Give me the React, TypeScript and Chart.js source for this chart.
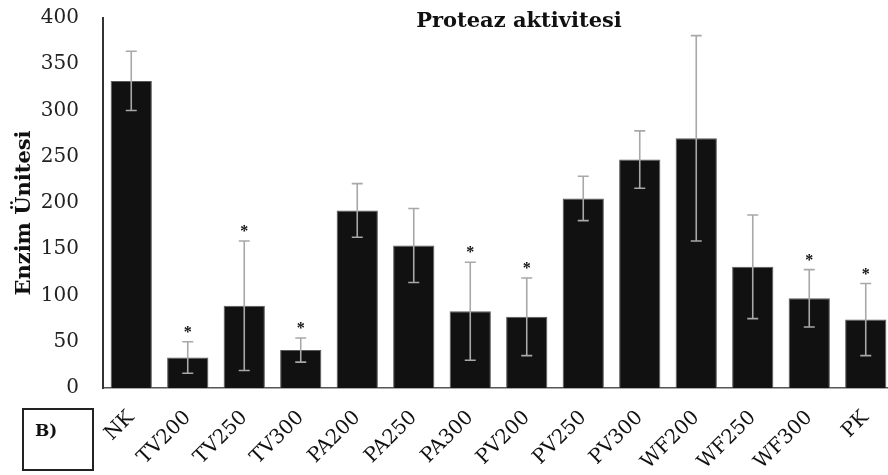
import React, { useEffect, useRef } from "react";
import { Chart, registerables } from "chart.js";

Chart.register(...registerables);

const categories = ["NK", "TV200", "TV250", "TV300", "PA200", "PA250", "PA300", "PV200", "PV250", "PV300", "WF200", "WF250", "WF300", "PK"];
const means = [332, 33, 89, 41, 192, 154, 83, 77, 205, 247, 270, 131, 97, 74];
const errors = [32, 17, 70, 13, 29, 40, 53, 42, 24, 31, 111, 56, 31, 39];
const significant = [false, true, true, true, false, false, true, true, false, false, false, false, true, true];
const yMin = 0;
const yMax = 400;
const yStep = 50;
const chartTitle = "Proteaz aktivitesi";
const yTitle = "Enzim Ünitesi";
const panelLabel = "B)";

const FONT = "'DejaVu Serif', 'Liberation Serif', serif";

const decorPlugin = {
  id: "decor",
  afterDatasetsDraw(chart: any) {
    const { ctx } = chart;
    const yScale = chart.scales.y;
    const meta = chart.getDatasetMeta(0);
    ctx.save();
    meta.data.forEach((bar: any, i: number) => {
      const x = bar.x;
      const top = yScale.getPixelForValue(means[i] + errors[i]);
      const bot = yScale.getPixelForValue(means[i] - errors[i]);
      ctx.strokeStyle = "#a8a8a8";
      ctx.lineWidth = 1.6;
      ctx.beginPath();
      ctx.moveTo(x, top);
      ctx.lineTo(x, bot);
      ctx.moveTo(x - 5.5, top);
      ctx.lineTo(x + 5.5, top);
      ctx.moveTo(x - 5.5, bot);
      ctx.lineTo(x + 5.5, bot);
      ctx.stroke();
      if (significant[i]) {
        ctx.fillStyle = "#111";
        ctx.font = `bold 16px 'Liberation Serif', serif`;
        ctx.textAlign = "center";
        ctx.textBaseline = "middle";
        ctx.fillText("*", x, top - 9);
      }
    });
    ctx.restore();
  },
  afterDraw(chart: any) {
    const { ctx } = chart;
    ctx.save();
    ctx.fillStyle = "#111";
    ctx.font = `bold 21px ${FONT}`;
    ctx.textAlign = "center";
    ctx.textBaseline = "middle";
    ctx.fillText(chartTitle, 519, 22);

    ctx.save();
    ctx.translate(25, 213);
    ctx.rotate(-Math.PI / 2);
    ctx.font = `bold 21px ${FONT}`;
    ctx.fillText(yTitle, 0, 0);
    ctx.restore();

    ctx.strokeStyle = "#222";
    ctx.lineWidth = 2;
    ctx.strokeRect(23, 409, 70, 61);
    ctx.font = `bold 17px ${FONT}`;
    ctx.textAlign = "left";
    ctx.fillText(panelLabel, 35, 432);
    ctx.restore();
  },
};

export default function App() {
  const ref = useRef<HTMLCanvasElement | null>(null);
  useEffect(() => {
    if (!ref.current) return;
    const chart = new Chart(ref.current, {
      type: "bar",
      data: {
        labels: categories,
        datasets: [
          {
            data: means,
            backgroundColor: "#111111",
            borderColor: "#5a5a5a",
            borderWidth: 1,
            barPercentage: 0.73,
            categoryPercentage: 1.0,
          },
        ],
      },
      options: {
        responsive: false,
        animation: false,
        layout: { padding: { top: 18, right: 0, left: 0, bottom: 0 } },
        plugins: {
          legend: { display: false },
          title: { display: false },
          tooltip: { enabled: false },
        },
        scales: {
          x: {
            grid: { display: false, drawTicks: false },
            border: { display: true, color: "#555", width: 1.5 },
            ticks: {
              autoSkip: false,
              minRotation: 45,
              maxRotation: 45,
              padding: 18,
              color: "#111",
              font: { family: FONT, size: 20 },
            },
            afterFit(scale: any) {
              scale.height = 87;
              scale.paddingLeft = 0;
              scale.paddingRight = 0;
              scale.paddingTop = 0;
              scale.paddingBottom = 0;
            },
          },
          y: {
            min: yMin,
            max: yMax,
            grid: { display: false, drawTicks: false },
            border: { display: true, color: "#333", width: 2 },
            ticks: {
              stepSize: yStep,
              padding: 24,
              color: "#222",
              font: { family: FONT, size: 20 },
            },
            afterFit(scale: any) {
              scale.width = 103;
              scale.paddingTop = 0;
              scale.paddingBottom = 0;
              scale.paddingLeft = 0;
              scale.paddingRight = 0;
            },
          },
        },
      },
      plugins: [decorPlugin],
    });
    return () => chart.destroy();
  }, []);
  return (
    <div style={{ position: "fixed", left: 0, top: 0, width: 888, height: 475, overflow: "hidden", background: "#fff" }}>
      <canvas ref={ref} width={894} height={475} style={{ width: 894, height: 475, display: "block" }} />
    </div>
  );
}
